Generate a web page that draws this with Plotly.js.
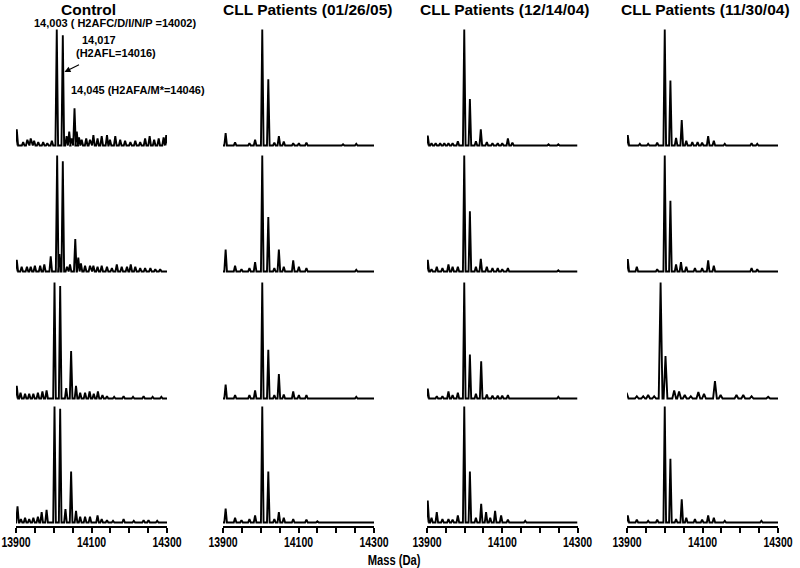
<!DOCTYPE html>
<html>
<head>
<meta charset="utf-8">
<script src="https://cdn.plot.ly/plotly-3.0.1.min.js"></script>
<style>html,body{margin:0;padding:0;background:#fff;}#chart{width:800px;height:568px;}</style>
</head>
<body>
<div id="chart"></div>
<script>
// ---- column titles ----
const columnTitles = ["Control", "CLL Patients (01/26/05)", "CLL Patients (12/14/04)", "CLL Patients (11/30/04)"];
const xAxisTitle = "Mass (Da)";
const tickValues = [13900, 13950, 14000, 14050, 14100, 14150, 14200, 14250, 14300];
const tickLabels = ["13900", "", "", "", "14100", "", "", "", "14300"];

// ---- peak lists: mass (Da) and relative intensity (% of base peak) ----
// Control
const r1c1_mass = [13902,13919,13930,13939,13948,13959,13972,13983,13995,14008,14024,14034,14041,14047,14055,14061,14067,14074,14086,14096,14105,14116,14127,14141,14149,14163,14176,14189,14203,14216,14229,14242,14254,14266,14278,14291,14298];
const r1c1_int  = [14,3,5,6,4,3,3,2,4,100,95,8,12,6,32,12,7,5,6,5,9,6,8,9,5,8,5,4,3,4,3,6,8,5,6,7,9];
const r2c1_mass = [13902,13915,13929,13939,13950,13964,13975,13992,14009,14015,14024,14035,14043,14057,14065,14072,14083,14096,14105,14116,14127,14141,14154,14167,14180,14194,14204,14216,14229,14242,14256,14269,14282];
const r2c1_int  = [10,4,4,4,5,5,6,13,100,15,95,4,6,28,12,7,5,5,5,4,5,4,3,6,4,4,6,4,3,3,3,2,2];
const r3c1_mass = [13902,13912,13924,13935,13946,13958,13970,13981,14002,14017,14033,14046,14059,14070,14083,14095,14106,14117,14129,14141,14160,14185,14210,14238,14262,14285];
const r3c1_int  = [11,5,4,4,4,5,6,7,100,97,9,41,11,5,5,6,4,6,3,2,1.5,2,1.5,2,1.5,1.5];
const r4c1_mass = [13904,13913,13924,13935,13946,13958,13968,13981,14002,14017,14031,14046,14059,14070,14083,14096,14116,14127,14141,14157,14185,14212,14238,14251,14274];
const r4c1_int  = [14,3,4,3,4,5,9,11,100,98,11.5,44,10,5,5,5,6,3,2,1.5,3,1.5,2,2,1.5];
// CLL Patients (01/26/05)
const r1c2_mass = [13907,13932,13970,13985,14004,14020,14036,14048,14061,14086,14101,14121,14218,14253];
const r1c2_int  = [10.6,2.6,2,5,100,57,2.5,8,3.5,2,2,2.5,1,1.5];
const r2c2_mass = [13907,13932,13949,13970,13985,14004,14020,14036,14048,14061,14086,14101,14121,14253];
const r2c2_int  = [19,5,2,3,8,100,47,3,19,4,9.5,4,3,1.5];
const r3c2_mass = [13907,13932,13970,13985,14004,14020,14036,14048,14061,14086,14101,14121,14253];
const r3c2_int  = [12,3,3,7,100,42,3,21,3.5,6,3,3,1.5];
const r4c2_mass = [13907,13932,13949,13970,13985,14004,14020,14036,14048,14061,14086,14121,14150];
const r4c2_int  = [12,4,2,3,6,100,44,3,9,4,3,2.5,1];
// CLL Patients (12/14/04)
const r1c3_mass = [13902,13912,13923,13935,13946,13957,13968,13982,13999,14014,14030,14043,14059,14074,14088,14100,14115,14127,14223,14249];
const r1c3_int  = [8.6,2,2,2,2,2,2,3.7,100,40,3.7,14,3,2,2,2,6,2.5,1,1];
const r2c3_mass = [13902,13912,13926,13941,13957,13968,13982,13999,14014,14030,14043,14059,14074,14088,14100,14115,14249];
const r2c3_int  = [10,2,4,3,6,4,4,100,52,4,11,4,3,3,2,3,1];
const r3c3_mass = [13902,13926,13941,13957,13968,13982,13999,14014,14030,14044,14059,14074,14088,14100,14115,14249];
const r3c3_int  = [8.6,2,2,6,3,5,100,38,4,32,3.5,2.5,2.5,2.5,3,1.5];
const r4c3_mass = [13902,13912,13926,13941,13957,13968,13982,13999,14014,14030,14044,14057,14068,14081,14097,14115,14161];
const r4c3_int  = [19,4,9,3,3,2.5,6,100,44,4,16,9,4,10,6,2.5,1.5];
// CLL Patients (11/30/04)
const r1c4_mass = [13902,13934,13956,13980,14000,14015,14030,14045,14057,14073,14087,14099,14115,14130,14159,14230,14245];
const r1c4_int  = [9,1.5,1.5,2.5,100,56,6.6,22,4,3,3,2.5,8,4,1.5,2,1.5];
const r2c4_mass = [13902,13926,13980,14000,14015,14030,14043,14057,14080,14099,14115,14130,14230,14245];
const r2c4_int  = [10.6,4,2,100,61,6,8,4,3,3,9.5,5,3,2];
const r3c4_mass = [13899,13926,13943,13956,13972,13989,14002,14025,14038,14053,14069,14089,14104,14133,14148,14190,14208,14230,14274];
const r3c4_int  = [5,2,2,3,2,100,36.5,7,6,3,2,5.5,4,15,3,3,3,2,1.5];
const r4c4_mass = [13902,13926,13956,13980,14000,14015,14030,14045,14057,14080,14099,14115,14130,14159,14256];
const r4c4_int  = [6,2.5,1.5,2.5,100,55,3,20,4,3,2.5,6,4,1.5,1.5];

const panels = [
  [[r1c1_mass,r1c1_int],[r1c2_mass,r1c2_int],[r1c3_mass,r1c3_int],[r1c4_mass,r1c4_int]],
  [[r2c1_mass,r2c1_int],[r2c2_mass,r2c2_int],[r2c3_mass,r2c3_int],[r2c4_mass,r2c4_int]],
  [[r3c1_mass,r3c1_int],[r3c2_mass,r3c2_int],[r3c3_mass,r3c3_int],[r3c4_mass,r3c4_int]],
  [[r4c1_mass,r4c1_int],[r4c2_mass,r4c2_int],[r4c3_mass,r4c3_int],[r4c4_mass,r4c4_int]]
];

// ---- layout geometry (pixels) ----
const W = 800, H = 568;
const colPx = [[16,167],[223,374],[427,577.5],[627,778]];
const rowBase = [145.5, 271.5, 398.5, 522.5];
const pxPerUnit = 1.16;
const yTop = 104;
const halfWidths = [[3.5,3.5,3.5,3.5],[3.5,3.5,3.5,3.5],[3.5,3.5,3.5,5],[3.5,3.5,3.5,3.5]]; // peak half width (Da)

function peakLine(mass, inten, hw) {
  const xs = [13900], ys = [0];
  const idx = mass.map((m,i)=>i).sort((a,b)=>mass[a]-mass[b]);
  idx.forEach(i => {
    xs.push(mass[i]-hw, mass[i], mass[i]+hw);
    ys.push(0, inten[i], 0);
  });
  xs.push(14300); ys.push(0);
  return {xs, ys};
}

const data = [];
const layout = {
  width: W, height: H,
  margin: {l:0, r:0, t:0, b:0},
  paper_bgcolor: '#fff', plot_bgcolor: 'rgba(0,0,0,0)',
  showlegend: false,
  annotations: [],
  font: {family: 'Liberation Sans, Arial, sans-serif', color: '#000'}
};

let k = 0;
for (let r = 0; r < 4; r++) {
  for (let c = 0; c < 4; c++) {
    k++;
    const [m, it] = panels[r][c];
    const pl = peakLine(m, it, halfWidths[r][c]);
    const xa = k === 1 ? 'x' : 'x' + k;
    const ya = k === 1 ? 'y' : 'y' + k;
    data.push({x: pl.xs, y: pl.ys, xaxis: xa, yaxis: ya, type: 'scatter', mode: 'lines',
      line: {color: '#000', width: 1.9, shape: 'linear'}, hoverinfo: 'skip'});
    const bottom = r === 3;
    const lo = bottom ? -2.6 : -3;
    const pyBottom = rowBase[r] - lo * pxPerUnit;
    const pyTop = rowBase[r] - yTop * pxPerUnit;
    const xKey = k === 1 ? 'xaxis' : 'xaxis' + k;
    const yKey = k === 1 ? 'yaxis' : 'yaxis' + k;
    layout[xKey] = {
      domain: [colPx[c][0]/W, colPx[c][1]/W],
      range: [13900, 14300], anchor: ya, fixedrange: true,
      showgrid: false, zeroline: false,
      visible: bottom,
      showline: bottom, linecolor: '#000', linewidth: 2,
      ticks: bottom ? 'outside' : '', ticklen: 5, tickwidth: 2, tickcolor: '#000',
      tickmode: 'array', tickvals: tickValues, ticktext: tickLabels,
      ticklabeloverflow: 'allow', ticklabelstandoff: -2,
      tickfont: {family: 'Liberation Sans, Arial, sans-serif', size: 14, weight: 'bold', color: '#000'}
    };
    layout[yKey] = {
      domain: [1 - pyBottom/H, 1 - pyTop/H],
      range: [lo, yTop], anchor: xa, fixedrange: true, visible: false
    };
  }
}

// column titles
const titleCenters = [88, 307.7, 504, 705];
columnTitles.forEach((t, i) => {
  layout.annotations.push({text: '<b>' + t + '</b>', xref: 'paper', yref: 'paper',
    x: titleCenters[i]/W, y: 1 - 9.5/H, xanchor: 'center', yanchor: 'middle', showarrow: false,
    font: {size: 15.5, family: 'Liberation Sans, Arial, sans-serif', color: '#000'}});
});
// x axis title
layout.annotations.push({text: '<b>' + xAxisTitle + '</b>', xref: 'paper', yref: 'paper',
  x: 394/W, y: 1 - 560/H, xanchor: 'center', yanchor: 'middle', showarrow: false,
  font: {size: 14, family: 'Liberation Sans, Arial, sans-serif', color: '#000'}});

// peak labels in control panel
const peakNotes = [
  {t: '14,003 ( H2AFC/D/I/N/P =14002)', x: 31.5, y: 23},
  {t: '14,017', x: 80, y: 40},
  {t: '(H2AFL=14016)', x: 74, y: 53},
  {t: '14,045 (H2AFA/M*=14046)', x: 69, y: 90}
];
peakNotes.forEach(n => {
  layout.annotations.push({text: '<b>' + n.t + '</b>', xref: 'paper', yref: 'paper',
    x: n.x/W, y: 1 - n.y/H, xanchor: 'left', yanchor: 'middle', showarrow: false,
    font: {size: 11, family: 'Liberation Sans, Arial, sans-serif', color: '#000'}});
});
// arrow to the 14,017 peak
layout.annotations.push({text: '', xref: 'paper', yref: 'paper', x: 64.5/W, y: 1 - 72/H,
  ax: 16, ay: -8, showarrow: true, arrowhead: 2, arrowsize: 1, arrowwidth: 1.2, arrowcolor: '#000'});

// horizontally condense the bottom texts (the reference uses a narrow face)
function condense(el, s) {
  const bb = el.getBBox();
  const cx = bb.x + bb.width / 2;
  const tr = el.getAttribute('transform') || '';
  el.setAttribute('transform', tr + ' translate(' + cx + ',0) scale(' + s + ',1) translate(' + (-cx) + ',0)');
}

Plotly.newPlot('chart', data, layout, {staticPlot: true, displayModeBar: false}).then(gd => {
  gd.querySelectorAll('.xaxislayer-above text').forEach(el => condense(el, 0.75));
  gd.querySelectorAll('.annotation-text').forEach(el => {
    if (el.textContent === xAxisTitle) condense(el, 0.8);
  });
});
</script>
</body>
</html>
